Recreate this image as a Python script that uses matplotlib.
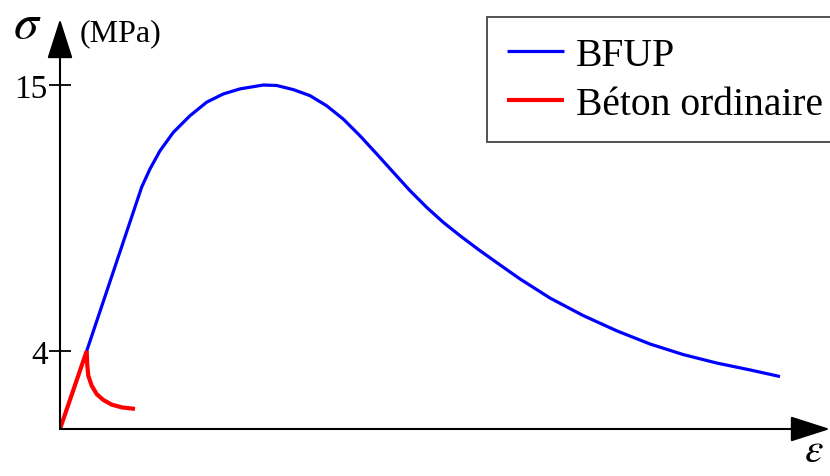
import matplotlib.pyplot as plt
import numpy as np

plt.rcParams['font.family'] = ['Liberation Serif', 'DejaVu Serif']
plt.rcParams['mathtext.fontset'] = 'stix'

# strain (arbitrary units) and stress (MPa)
bfup_eps = [0.267, 0.817, 0.90, 1.00, 1.133, 1.30, 1.467, 1.633, 1.80, 2.033,
            2.167, 2.333, 2.50, 2.667, 2.833, 3.00, 3.167, 3.333, 3.50, 3.667,
            3.833, 4.00, 4.183, 4.40, 4.60, 4.90, 5.23, 5.57, 5.90, 6.23,
            6.57, 6.90, 7.20]
bfup_sig = [4.0, 10.78, 11.53, 12.28, 13.04, 13.73, 14.29, 14.63, 14.84, 15.0,
            14.98, 14.81, 14.56, 14.14, 13.59, 12.90, 12.15, 11.39, 10.63, 9.94,
            9.32, 8.77, 8.20, 7.56, 6.98, 6.19, 5.47, 4.83, 4.29, 3.82,
            3.38, 3.03, 2.69]

beton_eps = [0.0, 0.267, 0.273, 0.283, 0.317, 0.367, 0.433, 0.517, 0.617, 0.75]
beton_sig = [0.0, 4.0, 3.25, 2.73, 2.22, 1.79, 1.49, 1.25, 1.11, 1.03]

ytick_vals = [4, 15]

# schematic stress axis: the 0-4 band is drawn narrower than 4-15
_ref = [-10, 0, 4, 15, 30]
_pos = [-195, 0, 78, 344, 706.7]


def fwd(y):
    return np.interp(y, _ref, _pos)


def inv(p):
    return np.interp(p, _pos, _ref)


fig = plt.figure(figsize=(8.3, 4.77), dpi=100)
ax = fig.add_axes([60 / 830, 47 / 477, 770 / 830, 410 / 477])
ax.set_yscale('function', functions=(fwd, inv))

ax.plot(bfup_eps, bfup_sig, color='blue', lw=2.3, label='BFUP', solid_capstyle='butt')
ax.plot(beton_eps, beton_sig, color='red', lw=3.0, label='Béton ordinaire',
        solid_capstyle='butt', solid_joinstyle='miter')

ax.set_xlim(0, 7.7)
ax.set_ylim(0, 17.73)

for s in ax.spines.values():
    s.set_visible(False)

ax.set_xticks([])
ax.set_yticks(ytick_vals)
ax.set_yticklabels([str(v) for v in ytick_vals])
ax.tick_params(axis='y', direction='inout', length=16, width=1.3, pad=1,
               labelsize=24, color='black')

# axes drawn as arrows
arrow = dict(arrowstyle='-|>,head_length=2.5,head_width=0.8', color='black',
             lw=1.5, shrinkA=0, shrinkB=0)
ax.annotate('', xy=(0, 1), xytext=(0, 0), xycoords='axes fraction',
            textcoords='axes fraction', arrowprops=arrow, annotation_clip=False)
ax.annotate('', xy=(1, 0), xytext=(0, 0), xycoords='axes fraction',
            textcoords='axes fraction', arrowprops=arrow, annotation_clip=False)

fig.text(13 / 830, 1 - 26 / 477, r'$\sigma$', fontsize=36, va='center', ha='left')
fig.text(80 / 830, 1 - 34 / 477, '(MPa)', fontsize=23, va='center', ha='left')
fig.text(824 / 830, 1 - 452 / 477, r'$\varepsilon$', fontsize=30, va='center', ha='right')

leg = ax.legend(loc='upper left', bbox_to_anchor=(487 / 830, 1 - 18 / 477),
                bbox_transform=fig.transFigure, fontsize=28.5, frameon=True,
                fancybox=False, framealpha=1, edgecolor='#444444',
                handlelength=1.45, handletextpad=0.3, labelspacing=0.3,
                borderpad=0.5, borderaxespad=0)
leg.get_frame().set_linewidth(1.3)

fig.savefig('out.png', dpi=100)
